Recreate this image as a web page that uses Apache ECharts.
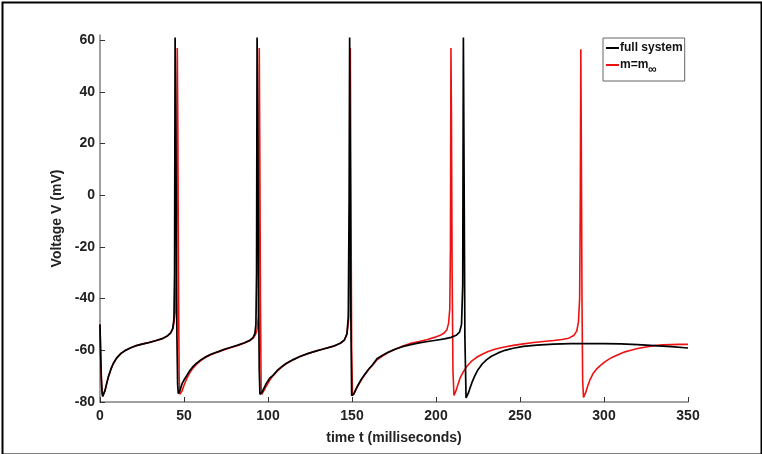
<!DOCTYPE html>
<html>
<head>
<meta charset="utf-8">
<script src="https://cdn.jsdelivr.net/npm/echarts@6/dist/echarts.min.js"></script>
<style>html,body{margin:0;padding:0;background:#fff}#c{width:762px;height:454px}</style>
</head>
<body>
<div id="c"></div>
<script>
// ---- data ----
var xTicks = [0, 50, 100, 150, 200, 250, 300, 350];
var yTicks = [-80, -60, -40, -20, 0, 20, 40, 60];

var fullT = [0,0.4,0.8,1.2,1.6,2.2,3,4,5,6.5,8,10,12.5,15,18,21,25,29,33,37,40,42,43.3,44,44.4,44.7,45.0,45.4,45.8,46.2,46.6,47.1,47.8,48.8,50,51.6,53.5,55.5,57.5,60,63,66,70,74,78,82,86,89,91,92.2,92.8,93.2,93.5,93.9,94.3,94.8,95.2,95.7,96.4,97.5,99,101,103,105.5,108,111,115,119,124,129,134,139,143,145.5,147,147.8,148.3,148.6,148.9,149.3,149.8,150.3,151,152,153.3,155,157,159.5,162,165,168.5,172,176,180,185,190,195,200,205,209,212,214,215.2,215.9,216.3,216.7,217.2,217.9,218.5,219.3,220.3,221.5,223,225,227.5,230,233,237,241,246,252,260,270,280,290,300,310,320,330,340,350];
var fullV = [-50,-62,-71,-76,-77.8,-77.3,-75.5,-72.8,-70.2,-67.3,-65,-62.9,-61.2,-60.1,-59.1,-58.3,-57.6,-57,-56.3,-55.5,-54.5,-53.3,-51.5,-48,-30,61,40,-10,-55,-73,-76.8,-76.5,-75.2,-73,-71.5,-69.8,-67.8,-66.2,-65,-63.7,-62.5,-61.5,-60.6,-59.6,-58.8,-58,-57.1,-56.2,-55.2,-53.5,-50,-30,61,30,-30,-68,-77,-77.2,-76.3,-74.8,-72.8,-70.8,-69.7,-67.8,-66.4,-65,-63.6,-62.4,-61.2,-60.2,-59.3,-58.4,-57.3,-56,-53.5,-47,0,61,20,-45,-77.5,-77.8,-77,-75.5,-73.8,-71.8,-69.8,-67.6,-65.8,-63.2,-61.8,-60.6,-59.5,-58.6,-57.8,-57.1,-56.6,-56.1,-55.6,-55,-54.2,-53,-50,-35,61,10,-55,-78.4,-78,-76.5,-74.5,-72.3,-70,-67.5,-65.3,-63.7,-62.3,-61,-60,-59.2,-58.5,-58,-57.6,-57.4,-57.4,-57.4,-57.5,-57.8,-58.2,-58.6,-59.1];

var redT = [0,0.4,0.8,1.2,1.6,2.2,3,4,5,6.5,8,10,12.5,15,18,21,25,29,33,37,40,42,43.3,44,44.8,45.4,45.8,46.0,46.3,46.7,47.1,47.5,48,48.8,50,51.6,53.5,55.5,57.5,60,63,66,70,74,78,82,86,89,91,92.5,93.5,94.2,94.6,94.8,95.1,95.5,95.9,96.3,96.9,97.8,99,101,103,105.5,108,111,115,119,124,129,134,139,143,145.5,147,148,148.6,149.0,149.3,149.8,150.3,150.9,151.6,152.5,154,155.5,157.5,160,162.5,165,168.5,172,176,180,185,190,195,199,202.5,205,206.5,207.5,208.2,208.6,208.9,209.2,209.6,210.1,210.7,211.3,212,213,214.3,216,218.3,221,224,227.5,231,235,240,246,252,258,264,270,275,279,282,283.8,284.8,285.5,285.9,286.2,286.5,286.9,287.3,287.8,288.4,289.2,290.2,291.7,293.5,295.5,297.6,300.5,303,305.6,309,312.5,316,320,325,330,335,340,345,350];
var redV = [-50,-62,-71,-76,-77.8,-77.3,-75.5,-72.8,-70.2,-67.3,-65,-62.9,-61.2,-60.1,-59.1,-58.3,-57.6,-57,-56.3,-55.5,-54.5,-53.4,-51.8,-49.5,-45,-30,20,57,30,-30,-70,-77,-77,-75.8,-73.5,-71,-68.6,-66.8,-65.4,-64,-62.7,-61.7,-60.7,-59.8,-58.9,-58.1,-57.2,-56.3,-55.4,-54,-52,-47,0,57,20,-40,-74,-77,-76.5,-75.3,-73.8,-71.6,-69.8,-68.1,-66.6,-65.1,-63.7,-62.4,-61.2,-60.2,-59.3,-58.4,-57.3,-56,-53.8,-48,-20,57,10,-60,-77.3,-77.3,-76.3,-75,-73.2,-71.5,-69.6,-67.3,-65.6,-63.6,-62,-60.7,-59.5,-58.4,-57.3,-56.6,-55.8,-55,-54.2,-53.2,-52,-49.5,-44,-20,57,30,-30,-68,-77.5,-77,-75.5,-73.3,-70.8,-68.6,-66.3,-64.3,-62.8,-61.5,-60.5,-59.6,-58.8,-58.1,-57.5,-57,-56.6,-56.2,-55.8,-55.3,-54.3,-52.5,-49,-40,0,56.5,20,-40,-72,-78.2,-77.8,-76.2,-74,-71.3,-69,-67.3,-66,-64.5,-63.4,-62.5,-61.5,-60.6,-60,-59.3,-58.7,-58.2,-57.9,-57.8,-57.7,-57.7];

var seriesNames = ['full system', 'm=m∞'];

function pairs(t, v) { return t.map(function (x, i) { return [x, v[i]]; }); }

var FONT = '"Liberation Sans", Arial, Helvetica, sans-serif';
var chart = echarts.init(document.getElementById('c'), null, { renderer: 'canvas' });

chart.setOption({
  animation: false,
  backgroundColor: '#ffffff',
  grid: { left: 100, right: 74, top: 35, bottom: 52, containLabel: false },
  xAxis: {
    type: 'value', min: 0, max: 350, interval: 50,
    name: 'time t (milliseconds)', nameLocation: 'middle', nameGap: 29,
    nameTextStyle: { fontFamily: FONT, fontWeight: 'bold', fontSize: 14, color: '#222' },
    axisLine: { show: true, onZero: false, lineStyle: { color: '#808080', width: 1.5 } },
    axisTick: { show: true, inside: true, length: 5, lineStyle: { color: '#333', width: 1 }, customValues: xTicks },
    axisLabel: { fontFamily: FONT, fontWeight: 'bold', fontSize: 14, color: '#222', margin: 7, customValues: xTicks },
    splitLine: { show: false }
  },
  yAxis: {
    type: 'value', min: -80, max: 62, interval: 20,
    name: 'Voltage V (mV)', nameLocation: 'middle', nameGap: 27,
    nameTextStyle: { fontFamily: FONT, fontWeight: 'bold', fontSize: 14, color: '#222' },
    axisLine: { show: true, onZero: false, lineStyle: { color: '#808080', width: 1.5 } },
    axisTick: { show: true, inside: true, length: 5, lineStyle: { color: '#333', width: 1 }, customValues: yTicks },
    axisLabel: { fontFamily: FONT, fontWeight: 'bold', fontSize: 14, color: '#222', margin: 5, customValues: yTicks },
    splitLine: { show: false }
  },
  legend: {
    data: seriesNames,
    orient: 'vertical', left: 603, top: 38,
    padding: [4, 2, 5, 3], itemGap: 5,
    icon: 'rect', itemWidth: 13, itemHeight: 2,
    borderColor: '#666', borderWidth: 1, backgroundColor: '#fff',
    textStyle: {
      fontFamily: FONT, fontWeight: 'bold', fontSize: 12, color: '#111', padding: [0, 0, 0, -4],
      rich: { sub: { fontFamily: FONT, fontWeight: 'bold', fontSize: 12, color: '#111', padding: [10, 0, 0, 0] } }
    },
    formatter: function (n) { return n === 'm=m∞' ? 'm=m{sub|∞}' : n; }
  },
  series: [
    { name: seriesNames[1], type: 'line', data: pairs(redT, redV), symbol: 'none', showSymbol: false,
      lineStyle: { color: '#ee1111', width: 1.6 }, itemStyle: { color: '#ee1111' }, z: 2 },
    { name: seriesNames[0], type: 'line', data: pairs(fullT, fullV), symbol: 'none', showSymbol: false,
      lineStyle: { color: '#000000', width: 1.7 }, itemStyle: { color: '#000000' }, z: 3 }
  ],
  graphic: [
    { type: 'rect', left: 0, top: 0, silent: true, z: 100,
      shape: { x: 1, y: 1, width: 759, height: 452 },
      style: { fill: null, stroke: '#000', lineWidth: 2 } }
  ]
});
</script>
</body>
</html>
